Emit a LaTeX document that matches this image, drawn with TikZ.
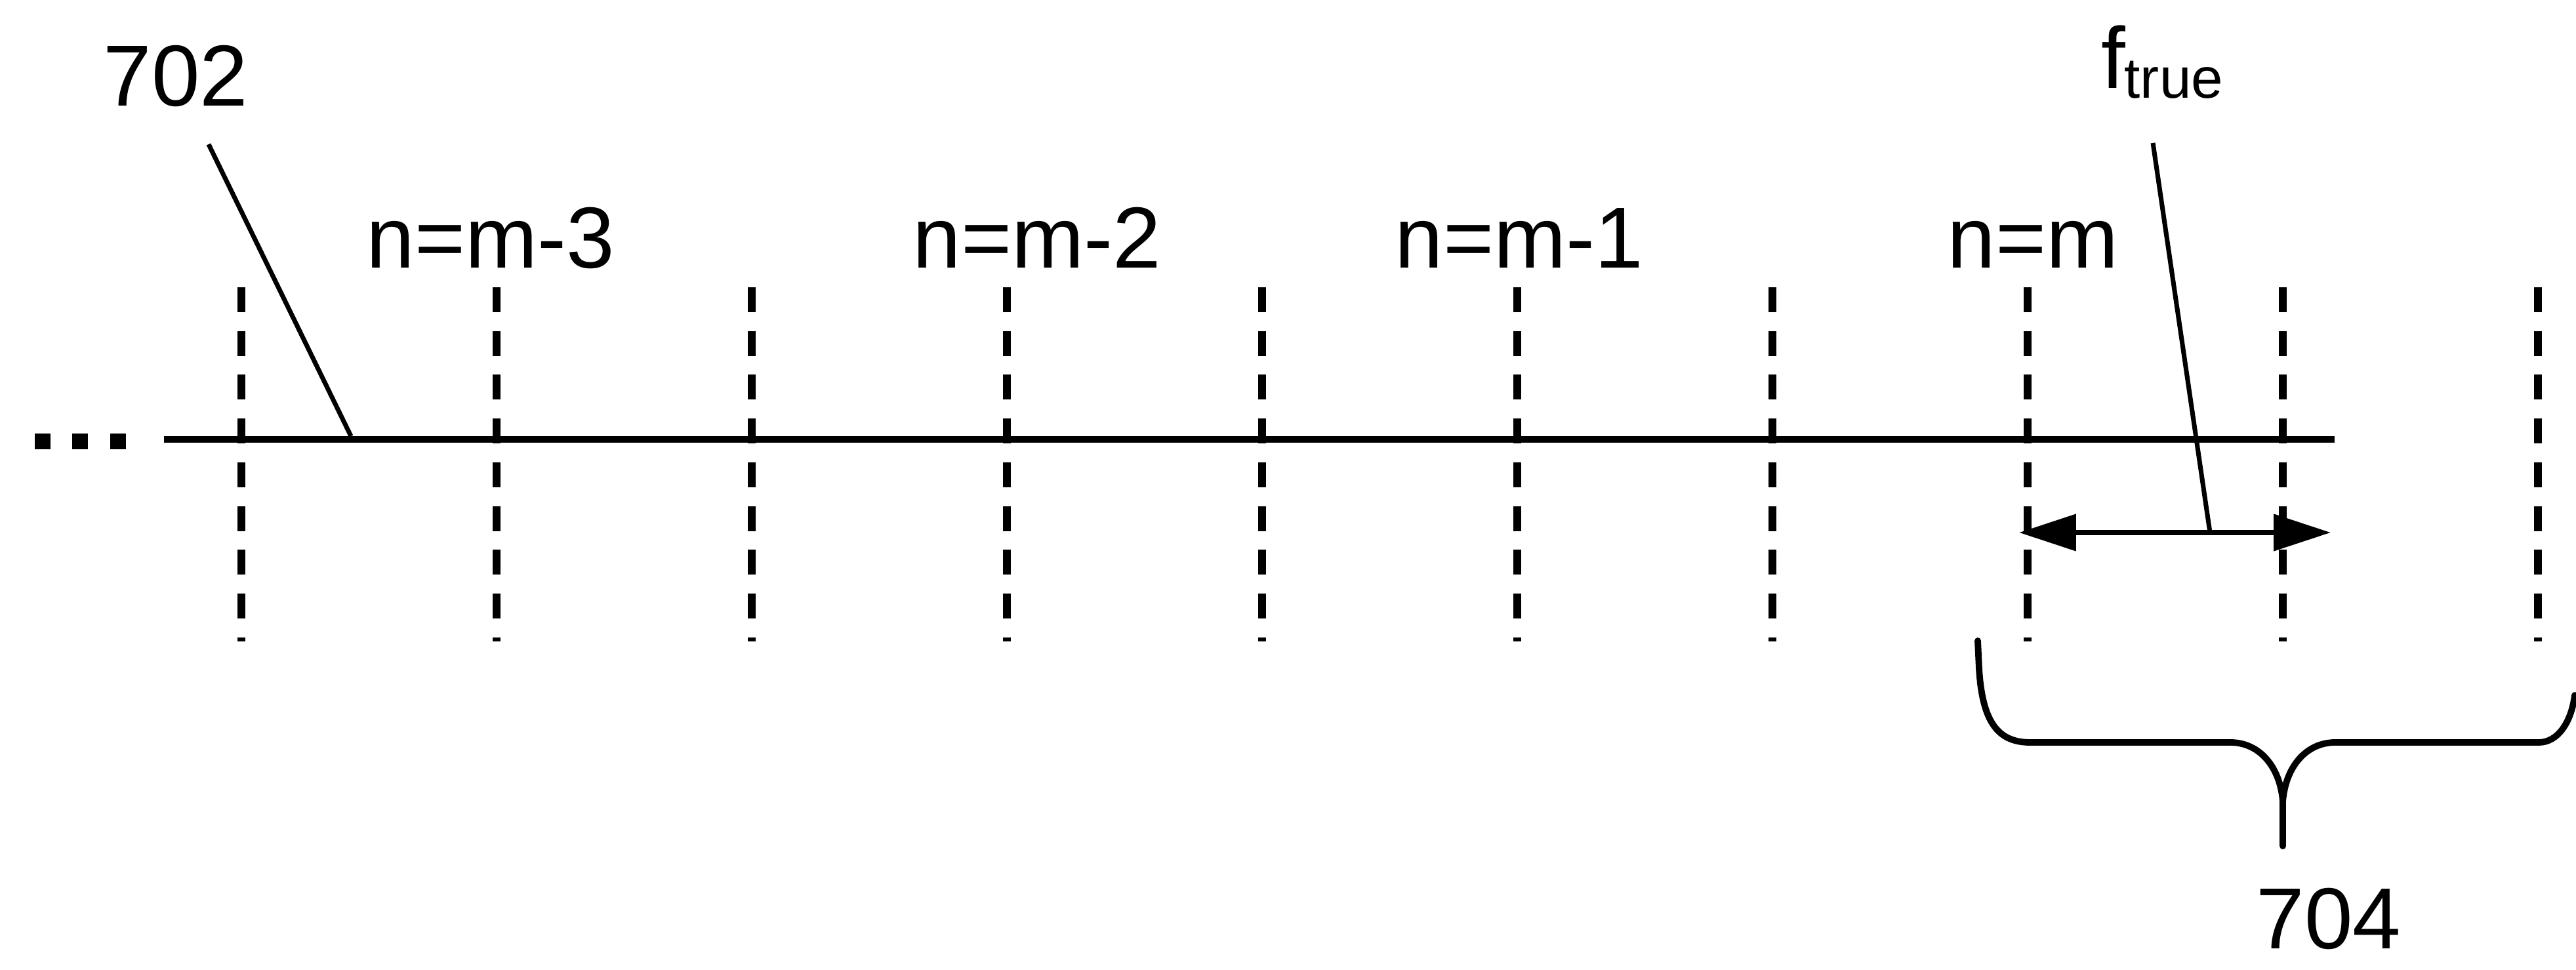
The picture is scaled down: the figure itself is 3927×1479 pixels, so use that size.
\documentclass[tikz,border=0pt]{standalone}
\usepackage{fontspec}
\setmainfont{Liberation Sans}
\usetikzlibrary{arrows.meta}
\begin{document}
\begin{tikzpicture}[x=0.01cm,y=-0.01cm,
  lbl/.style={inner sep=0pt, anchor=base west, font=\fontsize{37.6pt}{40pt}\selectfont},
  sublbl/.style={inner sep=0pt, anchor=base west, font=\fontsize{24.8pt}{26pt}\selectfont},
  gridline/.style={line width=3.4pt, dash pattern=on 10.8pt off 8.17pt},
  axisline/.style={line width=3.1pt},
  leader/.style={line width=2pt},
  dimarrow/.style={line width=2.2pt, {Triangle[length=24.7pt,width=15.6pt]}-{Triangle[length=24.7pt,width=15.6pt]}},
  bracestyle/.style={line width=2.8pt, line join=round, line cap=round},
  dotsq/.style={fill=black, draw=none, rectangle, minimum size=0.23cm, inner sep=0pt}
]
\useasboundingbox (0,0) rectangle (3927,1479);

% ellipsis dots
\node[dotsq] (dotA) at (65,673) {};
\node[dotsq] (dotB) at (122,673) {};
\node[dotsq] (dotC) at (180,673) {};

% vertical dashed lines
\foreach \k in {0,...,9}{
  \coordinate (t\k) at ({368+389*\k},438);
  \coordinate (b\k) at ({368+389*\k},978);
  \draw[gridline] (t\k) -- (b\k);
}

% main horizontal line
\coordinate (hl) at (250,670);
\coordinate (hr) at (3559,670);
\draw[axisline] (hl) -- (hr);

% labels
\node[lbl] (l702) at (157,162) {702};
\node[lbl] (lm3) at (558,408) {n=m-3};
\node[lbl] (lm2) at (1391,408) {n=m-2};
\node[lbl] (lm1) at (2126,408) {n=m-1};
\node[lbl] (lm0) at (2968,408) {n=m};
\node[lbl] (lf) at (3203,135) {f};
\node[sublbl] (ltrue) at (3238,150) {true};
\node[lbl] (l704) at (3439,1446) {704};

% leader of 702
\coordinate (p702a) at (318,220);
\coordinate (p702b) at (535,665);
\draw[leader] (p702a) -- (p702b);

% dimension arrow f_true
\coordinate (aL) at (3078,812);
\coordinate (aR) at (3553,812);
\draw[dimarrow] (aL) -- (aR);
\coordinate (pfa) at (3282,218);
\coordinate (pfb) at (3369,812);
\draw[leader] (pfa) -- (pfb);

% brace 704
\coordinate (brL) at (3015,977);
\coordinate (brTip) at (3480,1222);
\coordinate (brStem) at (3480,1290);
\coordinate (brR) at (3925,1060);
\draw[bracestyle] (brL) -- (3017,1020) .. controls (3022,1100) and (3045,1132) .. (3095,1132)
  -- (3400,1132) .. controls (3445,1132) and (3476,1170) .. (brTip) -- (brStem);
\draw[bracestyle] (brTip) .. controls (3484,1170) and (3515,1132) .. (3560,1132)
  -- (3870,1132) .. controls (3900,1132) and (3920,1100) .. (brR);
\end{tikzpicture}
\end{document}
